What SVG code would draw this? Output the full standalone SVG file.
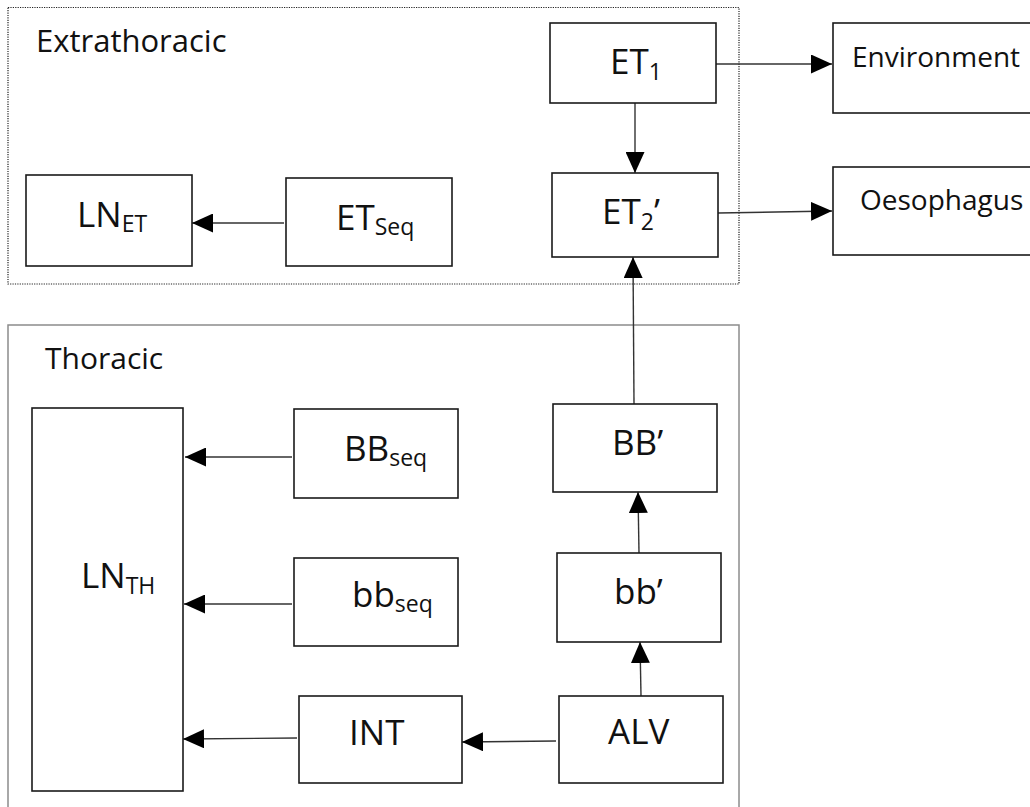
<svg xmlns="http://www.w3.org/2000/svg" width="1030" height="807" viewBox="0 0 1030 807">
  <style>
    .node { fill: #ffffff; stroke: #1a1a1a; stroke-width: 1.6; }
    .lbl { font-family: "Open Sans", "Noto Sans", sans-serif; font-size: 35px; fill: #111111; }
    .sm { font-family: "Open Sans", "Noto Sans", sans-serif; font-size: 28px; fill: #111111; }
    .sub { font-size: 23px; }
    .edge { stroke: #333333; stroke-width: 1.4; fill: none; marker-end: url(#head); }
  </style>
  <defs>
    <marker id="head" markerUnits="userSpaceOnUse" markerWidth="21" markerHeight="19" refX="21" refY="9.5" orient="auto">
      <path d="M0,0 L21,9.5 L0,19 Z" fill="#000000"/>
    </marker>
  </defs>

  <rect width="1030" height="807" fill="#ffffff"/>

  <!-- region frames -->
  <g id="region-extrathoracic">
    <rect x="8" y="7.5" width="731" height="276.5" fill="none" stroke="#222222" stroke-width="1.2" stroke-dasharray="1.2,1.2"/>
    <text class="sm" x="36" y="52" style="font-size:31px">Extrathoracic</text>
  </g>
  <g id="region-thoracic">
    <rect x="8" y="325" width="731" height="500" fill="none" stroke="#8c8c8c" stroke-width="1.5"/>
    <text class="sm" x="45" y="369" style="font-size:30px">Thoracic</text>
  </g>

  <!-- connectors -->
  <g id="connectors">
    <line class="edge" x1="716" y1="64" x2="832" y2="64"/>
    <line class="edge" x1="635" y1="103" x2="635" y2="173"/>
    <line class="edge" x1="718" y1="213" x2="832" y2="211"/>
    <line class="edge" x1="634" y1="404" x2="633" y2="257"/>
    <line class="edge" x1="284" y1="223" x2="192" y2="223"/>
    <line class="edge" x1="292" y1="457" x2="185" y2="457"/>
    <line class="edge" x1="292" y1="604" x2="184" y2="604"/>
    <line class="edge" x1="297" y1="738" x2="183" y2="739"/>
    <line class="edge" x1="556" y1="741" x2="462" y2="742"/>
    <line class="edge" x1="641" y1="696" x2="640" y2="642"/>
    <line class="edge" x1="639" y1="553" x2="638" y2="492"/>
  </g>

  <!-- nodes -->
  <g id="node-ln-et">
    <rect class="node" x="26" y="175" width="166" height="91"/>
    <text class="lbl" x="77" y="227">LN<tspan class="sub" dy="5">ET</tspan></text>
  </g>
  <g id="node-et-seq">
    <rect class="node" x="286" y="178" width="166" height="88"/>
    <text class="lbl" x="336" y="230">ET<tspan class="sub" dy="5">Seq</tspan></text>
  </g>
  <g id="node-et1">
    <rect class="node" x="550" y="23" width="166" height="80"/>
    <text class="lbl" x="610" y="74">ET<tspan class="sub" dy="6">1</tspan></text>
  </g>
  <g id="node-et2">
    <rect class="node" x="552" y="173" width="166" height="84"/>
    <text class="lbl" x="602" y="224">ET<tspan class="sub" dy="6">2</tspan><tspan dy="-6">’</tspan></text>
  </g>
  <g id="node-environment">
    <rect class="node" x="833" y="23" width="210" height="90"/>
    <text class="sm" x="852" y="67">Environment</text>
  </g>
  <g id="node-oesophagus">
    <rect class="node" x="833" y="167" width="210" height="88"/>
    <text class="sm" x="860" y="210">Oesophagus</text>
  </g>
  <g id="node-ln-th">
    <rect class="node" x="32" y="408" width="151" height="383"/>
    <text class="lbl" x="81" y="588">LN<tspan class="sub" dy="6">TH</tspan></text>
  </g>
  <g id="node-bb-seq">
    <rect class="node" x="294" y="409" width="164" height="89"/>
    <text class="lbl" x="344" y="461">BB<tspan class="sub" dy="5">seq</tspan></text>
  </g>
  <g id="node-bbs-seq">
    <rect class="node" x="294" y="558" width="164" height="88"/>
    <text class="lbl" x="352" y="607">bb<tspan class="sub" dy="5">seq</tspan></text>
  </g>
  <g id="node-int">
    <rect class="node" x="299" y="696" width="163" height="87"/>
    <text class="lbl" x="349" y="745">INT</text>
  </g>
  <g id="node-bb-prime">
    <rect class="node" x="553" y="404" width="164" height="88"/>
    <text class="lbl" x="612" y="455">BB’</text>
  </g>
  <g id="node-bbs-prime">
    <rect class="node" x="557" y="553" width="164" height="89"/>
    <text class="lbl" x="614" y="604">bb’</text>
  </g>
  <g id="node-alv">
    <rect class="node" x="559" y="696" width="164" height="87"/>
    <text class="lbl" x="608" y="744">ALV</text>
  </g>
</svg>
